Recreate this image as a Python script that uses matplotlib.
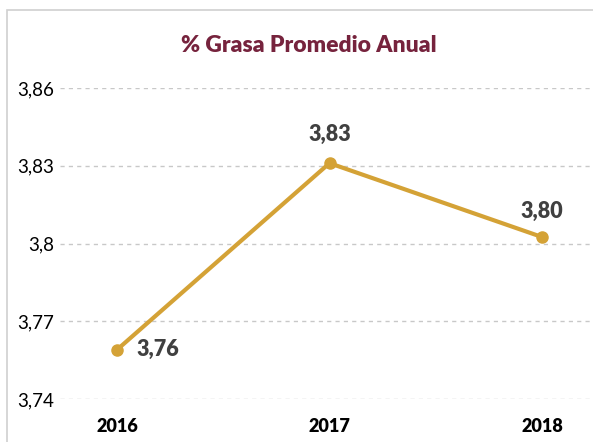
import matplotlib.pyplot as plt
from matplotlib.patches import Rectangle

# datos
years = [2016, 2017, 2018]
grasa = [3.759, 3.831, 3.8025]
etiquetas = ["3,76", "3,83", "3,80"]
y_ticks = [3.74, 3.77, 3.80, 3.83, 3.86]
y_ticklabels = ["3,74", "3,77", "3,8", "3,83", "3,86"]

plt.rcParams['font.family'] = ['Lato', 'DejaVu Sans']

fig = plt.figure(figsize=(5.93, 4.42), dpi=100)
ax = fig.add_axes([60 / 593, 43 / 442, 533 / 593, 311 / 442])

# marco gris del grafico
fig.patches.append(Rectangle((7 / 593, -0.1), 1.2, 432 / 442 + 0.1,
                             transform=fig.transFigure, fill=False,
                             edgecolor='#d0d0d0', linewidth=1.2))

color_linea = '#D4A236'
ax.plot(years, grasa, color=color_linea, linewidth=3, marker='o', markersize=8,
        solid_capstyle='round', zorder=3)

# etiquetas de datos
offsets = [(14, 0, 'left', 'center'), (0, 13, 'center', 'bottom'), (0, 11, 'center', 'bottom')]
for x, y, t, (dx, dy, ha, va) in zip(years, grasa, etiquetas, offsets):
    ax.annotate(t, (x, y), xytext=(dx, dy), textcoords='offset points',
                ha=ha, va=va, fontsize=15.5, fontweight='heavy', color='#404040')

ax.set_ylim(3.74, 3.86)
ax.set_xlim(2016 - 57 / 212.5, 2018 + 51 / 212.5)
ax.set_yticks(y_ticks)
ax.set_yticklabels(y_ticklabels, fontsize=13.5, color='black')
ax.set_xticks(years)
ax.set_xticklabels([str(y) for y in years], fontsize=13, fontweight='heavy')
ax.tick_params(axis='x', length=0, pad=14)
ax.tick_params(axis='y', length=0, pad=4)

ax.grid(axis='y', linestyle=(0, (3, 3)), color='#c8c8c8', linewidth=1)
ax.set_axisbelow(True)
for s in ax.spines.values():
    s.set_visible(False)

fig.text(309 / 593, 1 - 46 / 442, "% Grasa Promedio Anual", ha='center', va='center',
         fontsize=16.5, fontweight='heavy', color='#76233D')

fig.savefig('out.png', dpi=100)
